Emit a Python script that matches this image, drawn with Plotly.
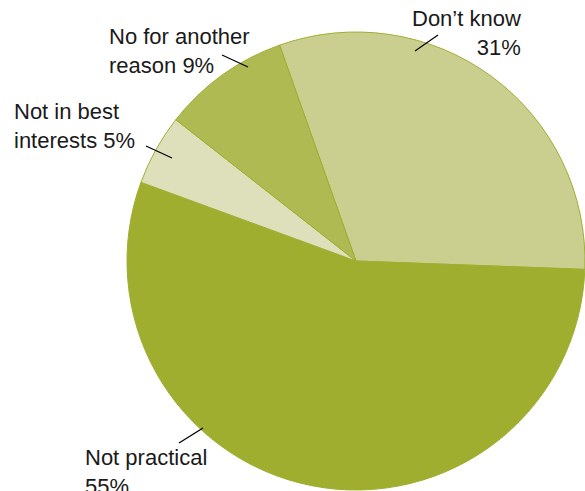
import plotly.graph_objects as go

# Survey responses (percent)
categories = ["Don\u2019t know", "Not practical", "Not in best interests", "No for another reason"]
values = [31, 55, 5, 9]
label_texts = ["Don\u2019t know<br>31%", "Not practical<br>55%", "Not in best<br>interests 5%", "No for another<br>reason 9%"]

colors = ["#cacf8f", "#a0ae30", "#dde0bb", "#b0ba52"]

W, H = 585, 491


def px(x):
    return x / W


def py(y):
    return 1 - y / H


fig = go.Figure(
    go.Pie(
        labels=categories,
        values=values,
        sort=False,
        direction="clockwise",
        rotation=-19.5,
        marker=dict(colors=colors, line=dict(color="#a0ae30", width=1)),
        textinfo="none",
        hoverinfo="skip",
        showlegend=False,
        domain=dict(x=[127 / W, 1], y=[0, 460 / H]),
    )
)

# Label placement: (x px, y px, xanchor, align)
label_pos = [
    (523, 33, "right", "right"),
    (83, 472, "left", "left"),
    (12, 126, "left", "left"),
    (107, 51, "left", "left"),
]
# Leader lines from label to slice edge
leaders = [
    ((438, 35), (415, 51)),
    ((179, 443), (203, 428)),
    ((146, 146), (172, 158)),
    ((222, 55), (248, 67)),
]

font = dict(family="Liberation Sans, Arial, sans-serif", size=22, color="#1a1a1a")
for text, (x, y, xa, al) in zip(label_texts, label_pos):
    fig.add_annotation(
        x=px(x), y=py(y), xref="paper", yref="paper",
        text=text, showarrow=False, xanchor=xa, yanchor="middle",
        align=al, font=font,
    )

for (x0, y0), (x1, y1) in leaders:
    fig.add_shape(
        type="line", xref="paper", yref="paper",
        x0=px(x0), y0=py(y0), x1=px(x1), y1=py(y1),
        line=dict(color="black", width=1.3),
    )

fig.update_layout(
    width=W, height=H,
    margin=dict(l=0, r=0, t=0, b=0),
    paper_bgcolor="white",
    plot_bgcolor="white",
)

fig.write_html("out.html")
